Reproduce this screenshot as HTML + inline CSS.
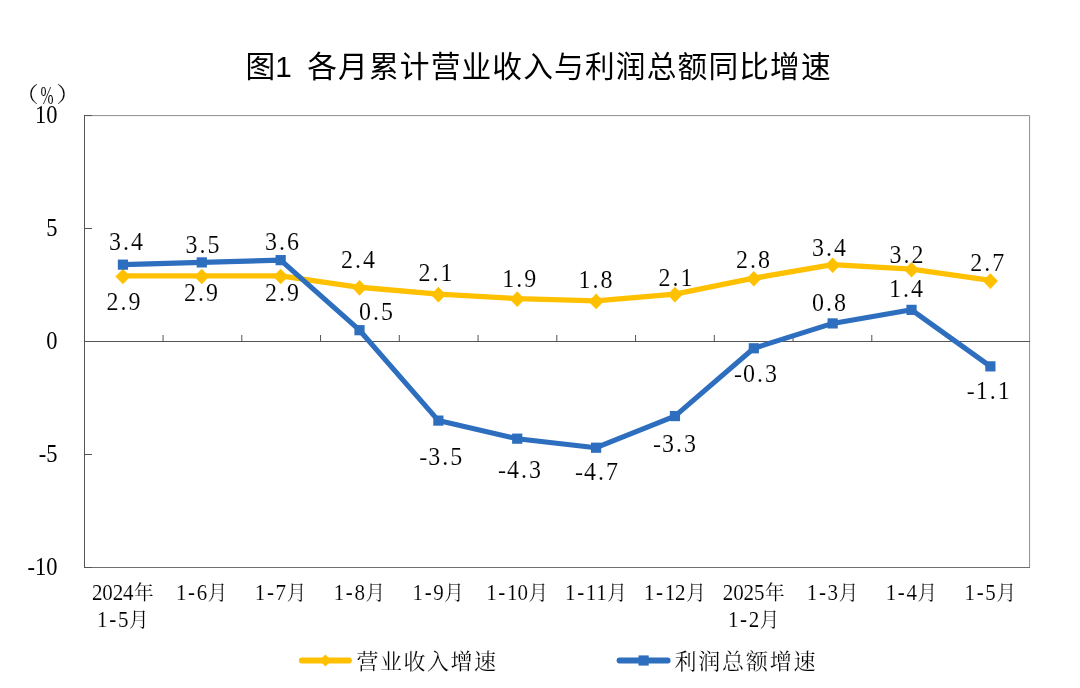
<!DOCTYPE html>
<html lang="zh-CN"><head><meta charset="utf-8"><title>图1 各月累计营业收入与利润总额同比增速</title>
<style>html,body{margin:0;padding:0;background:#fff}body{width:1080px;height:688px;overflow:hidden}svg{display:block}.t{font-family:"Liberation Sans","Noto Sans CJK SC",sans-serif;fill:#000}.s{font-family:"Liberation Serif","Noto Serif CJK SC",serif;fill:#000}.n{font-family:"Liberation Serif",serif;fill:#000;stroke:#fff;stroke-width:0.1px}.s{stroke:#fff;stroke-width:0.1px}</style></head><body>
<svg width="1080" height="688" viewBox="0 0 1080 688">
<rect width="1080" height="688" fill="#fff"/>
<text class="t" x="260.33 283.47 298.90 322.05 352.91 383.77 414.63 445.49 476.35 507.21 538.07 568.93 599.79 630.65 661.51 692.37 723.23 754.09 784.95 815.81" y="76.80" font-size="29.70" text-anchor="middle" xml:space="preserve">图1 各月累计营业收入与利润总额同比增速</text>
<g fill="none" shape-rendering="crispEdges" stroke-width="1">
<path d="M84.5 115.60H1029.58V567.5" stroke="#8d8d8d" shape-rendering="auto"/>
<path d="M84.5 567.5H1029.5" stroke="#707070"/>
<path d="M84.5 115.0V568.0" stroke="#555555"/>
<path d="M84.5 341.5H1029.5" stroke="#555555"/>
<path d="M163.05 341.0V335.0M241.80 341.0V335.0M320.55 341.0V335.0M399.30 341.0V335.0M478.05 341.0V335.0M556.80 341.0V335.0M635.55 341.0V335.0M714.30 341.0V335.0M793.05 341.0V335.0M871.80 341.0V335.0M950.55 341.0V335.0" stroke="#555555" shape-rendering="auto"/>
<path d="M84.5 115.5H91.5M84.5 228.5H91.5M84.5 454.5H91.5M84.5 567.5H91.5" stroke="#555555"/>
</g>
<text class="n" style="stroke:none" x="57.50" y="0" font-size="22.50" text-anchor="end" transform="translate(0 122.50) scale(1 1.0750)">10</text>
<text class="n" style="stroke:none" x="57.50" y="0" font-size="22.50" text-anchor="end" transform="translate(0 235.50) scale(1 1.0750)">5</text>
<text class="n" style="stroke:none" x="57.50" y="0" font-size="22.50" text-anchor="end" transform="translate(0 348.50) scale(1 1.0750)">0</text>
<text class="n" style="stroke:none" x="57.50" y="0" font-size="22.50" text-anchor="end" transform="translate(0 461.50) scale(1 1.0750)">-5</text>
<text class="n" style="stroke:none" x="57.50" y="0" font-size="22.50" text-anchor="end" transform="translate(0 574.50) scale(1 1.0750)">-10</text>
<g class="s" text-anchor="middle">
<text class="s" x="-6.26" y="0" font-size="21.30" transform="translate(33.60 102.00) scale(1.150 1)">（</text>
<text class="n" x="0" y="0" font-size="25.90" transform="translate(47.10 103.70) scale(0.607 1)">%</text>
<text class="s" x="6.26" y="0" font-size="21.30" transform="translate(61.40 102.00) scale(1.150 1)">）</text>
</g>
<text class="s" x="97.13 107.53 117.93 128.33 143.93" y="0.00" font-size="21.00" text-anchor="middle" transform="translate(0 600.00) scale(1 1.0500)">2024<tspan font-size="19.60">年</tspan></text>
<text class="s" x="102.33 112.73 123.13 138.73" y="0.00" font-size="21.00" text-anchor="middle" transform="translate(0 626.90) scale(1 1.0500)">1-5<tspan font-size="19.60">月</tspan></text>
<text class="s" x="181.19 191.59 201.99 217.59" y="0.00" font-size="21.00" text-anchor="middle" transform="translate(0 600.00) scale(1 1.0500)">1-6<tspan font-size="19.60">月</tspan></text>
<text class="s" x="260.05 270.45 280.85 296.45" y="0.00" font-size="21.00" text-anchor="middle" transform="translate(0 600.00) scale(1 1.0500)">1-7<tspan font-size="19.60">月</tspan></text>
<text class="s" x="338.91 349.31 359.71 375.31" y="0.00" font-size="21.00" text-anchor="middle" transform="translate(0 600.00) scale(1 1.0500)">1-8<tspan font-size="19.60">月</tspan></text>
<text class="s" x="417.77 428.17 438.57 454.17" y="0.00" font-size="21.00" text-anchor="middle" transform="translate(0 600.00) scale(1 1.0500)">1-9<tspan font-size="19.60">月</tspan></text>
<text class="s" x="491.43 501.83 512.23 522.63 538.23" y="0.00" font-size="21.00" text-anchor="middle" transform="translate(0 600.00) scale(1 1.0500)">1-10<tspan font-size="19.60">月</tspan></text>
<text class="s" x="570.29 580.69 591.09 601.49 617.09" y="0.00" font-size="21.00" text-anchor="middle" transform="translate(0 600.00) scale(1 1.0500)">1-11<tspan font-size="19.60">月</tspan></text>
<text class="s" x="649.15 659.55 669.95 680.35 695.95" y="0.00" font-size="21.00" text-anchor="middle" transform="translate(0 600.00) scale(1 1.0500)">1-12<tspan font-size="19.60">月</tspan></text>
<text class="s" x="728.01 738.41 748.81 759.21 774.81" y="0.00" font-size="21.00" text-anchor="middle" transform="translate(0 600.00) scale(1 1.0500)">2025<tspan font-size="19.60">年</tspan></text>
<text class="s" x="733.21 743.61 754.01 769.61" y="0.00" font-size="21.00" text-anchor="middle" transform="translate(0 626.90) scale(1 1.0500)">1-2<tspan font-size="19.60">月</tspan></text>
<text class="s" x="812.07 822.47 832.87 848.47" y="0.00" font-size="21.00" text-anchor="middle" transform="translate(0 600.00) scale(1 1.0500)">1-3<tspan font-size="19.60">月</tspan></text>
<text class="s" x="890.93 901.33 911.73 927.33" y="0.00" font-size="21.00" text-anchor="middle" transform="translate(0 600.00) scale(1 1.0500)">1-4<tspan font-size="19.60">月</tspan></text>
<text class="s" x="969.79 980.19 990.59 1006.19" y="0.00" font-size="21.00" text-anchor="middle" transform="translate(0 600.00) scale(1 1.0500)">1-5<tspan font-size="19.60">月</tspan></text>
<polyline points="122.93,275.96 201.79,275.96 280.65,275.96 359.51,287.26 438.37,294.04 517.23,298.56 596.09,300.82 674.95,294.04 753.81,278.22 832.67,264.66 911.53,269.18 990.39,280.48" fill="none" stroke="#FFC000" stroke-width="5.30" stroke-linejoin="round" stroke-linecap="round"/>
<path d="M115.43 276.56L122.93 268.76L130.43 276.56L122.93 284.36Z" fill="#FFC000"/>
<path d="M194.29 276.56L201.79 268.76L209.29 276.56L201.79 284.36Z" fill="#FFC000"/>
<path d="M273.15 276.56L280.65 268.76L288.15 276.56L280.65 284.36Z" fill="#FFC000"/>
<path d="M352.01 287.86L359.51 280.06L367.01 287.86L359.51 295.66Z" fill="#FFC000"/>
<path d="M430.87 294.64L438.37 286.84L445.87 294.64L438.37 302.44Z" fill="#FFC000"/>
<path d="M509.73 299.16L517.23 291.36L524.73 299.16L517.23 306.96Z" fill="#FFC000"/>
<path d="M588.59 301.42L596.09 293.62L603.59 301.42L596.09 309.22Z" fill="#FFC000"/>
<path d="M667.45 294.64L674.95 286.84L682.45 294.64L674.95 302.44Z" fill="#FFC000"/>
<path d="M746.31 278.82L753.81 271.02L761.31 278.82L753.81 286.62Z" fill="#FFC000"/>
<path d="M825.17 265.26L832.67 257.46L840.17 265.26L832.67 273.06Z" fill="#FFC000"/>
<path d="M904.03 269.78L911.53 261.98L919.03 269.78L911.53 277.58Z" fill="#FFC000"/>
<path d="M982.89 281.08L990.39 273.28L997.89 281.08L990.39 288.88Z" fill="#FFC000"/>
<polyline points="122.93,264.66 201.79,262.40 280.65,260.14 359.51,330.20 438.37,420.60 517.23,438.68 596.09,447.72 674.95,416.08 753.81,348.28 832.67,323.42 911.53,309.86 990.39,366.36" fill="none" stroke="#2E6EBE" stroke-width="5.10" stroke-linejoin="round" stroke-linecap="round"/>
<rect x="117.83" y="259.56" width="10.20" height="10.20" fill="#2E6EBE"/>
<rect x="196.69" y="257.30" width="10.20" height="10.20" fill="#2E6EBE"/>
<rect x="275.55" y="255.04" width="10.20" height="10.20" fill="#2E6EBE"/>
<rect x="354.41" y="325.10" width="10.20" height="10.20" fill="#2E6EBE"/>
<rect x="433.27" y="415.50" width="10.20" height="10.20" fill="#2E6EBE"/>
<rect x="512.13" y="433.58" width="10.20" height="10.20" fill="#2E6EBE"/>
<rect x="590.99" y="442.62" width="10.20" height="10.20" fill="#2E6EBE"/>
<rect x="669.85" y="410.98" width="10.20" height="10.20" fill="#2E6EBE"/>
<rect x="748.71" y="343.18" width="10.20" height="10.20" fill="#2E6EBE"/>
<rect x="827.57" y="318.32" width="10.20" height="10.20" fill="#2E6EBE"/>
<rect x="906.43" y="304.76" width="10.20" height="10.20" fill="#2E6EBE"/>
<rect x="985.29" y="361.26" width="10.20" height="10.20" fill="#2E6EBE"/>
<text class="n" x="115.00 126.00 137.00" y="0.00" font-size="24.00" text-anchor="middle" transform="translate(0 250.00) scale(1 1.0800)">3.4</text>
<text class="n" x="191.50 202.50 213.50" y="0.00" font-size="24.00" text-anchor="middle" transform="translate(0 253.00) scale(1 1.0800)">3.5</text>
<text class="n" x="271.00 282.00 293.00" y="0.00" font-size="24.00" text-anchor="middle" transform="translate(0 250.40) scale(1 1.0800)">3.6</text>
<text class="n" x="365.00 376.00 387.00" y="0.00" font-size="24.00" text-anchor="middle" transform="translate(0 320.40) scale(1 1.0800)">0.5</text>
<text class="n" x="423.20 434.20 445.20 456.20" y="0.00" font-size="24.00" text-anchor="middle" transform="translate(0 464.80) scale(1 1.0800)">-3.5</text>
<text class="n" x="502.10 513.10 524.10 535.10" y="0.00" font-size="24.00" text-anchor="middle" transform="translate(0 477.90) scale(1 1.0800)">-4.3</text>
<text class="n" x="579.00 590.00 601.00 612.00" y="0.00" font-size="24.00" text-anchor="middle" transform="translate(0 479.80) scale(1 1.0800)">-4.7</text>
<text class="n" x="657.10 668.10 679.10 690.10" y="0.00" font-size="24.00" text-anchor="middle" transform="translate(0 452.30) scale(1 1.0800)">-3.3</text>
<text class="n" x="738.00 749.00 760.00 771.00" y="0.00" font-size="24.00" text-anchor="middle" transform="translate(0 381.70) scale(1 1.0800)">-0.3</text>
<text class="n" x="818.10 829.10 840.10" y="0.00" font-size="24.00" text-anchor="middle" transform="translate(0 310.70) scale(1 1.0800)">0.8</text>
<text class="n" x="894.90 905.90 916.90" y="0.00" font-size="24.00" text-anchor="middle" transform="translate(0 297.30) scale(1 1.0800)">1.4</text>
<text class="n" x="970.80 981.80 992.80 1003.80" y="0.00" font-size="24.00" text-anchor="middle" transform="translate(0 399.00) scale(1 1.0800)">-1.1</text>
<text class="n" x="112.50 123.50 134.50" y="0.00" font-size="24.00" text-anchor="middle" transform="translate(0 309.90) scale(1 1.0800)">2.9</text>
<text class="n" x="190.00 201.00 212.00" y="0.00" font-size="24.00" text-anchor="middle" transform="translate(0 300.50) scale(1 1.0800)">2.9</text>
<text class="n" x="271.00 282.00 293.00" y="0.00" font-size="24.00" text-anchor="middle" transform="translate(0 300.90) scale(1 1.0800)">2.9</text>
<text class="n" x="346.90 357.90 368.90" y="0.00" font-size="24.00" text-anchor="middle" transform="translate(0 268.20) scale(1 1.0800)">2.4</text>
<text class="n" x="424.50 435.50 446.50" y="0.00" font-size="24.00" text-anchor="middle" transform="translate(0 280.70) scale(1 1.0800)">2.1</text>
<text class="n" x="508.30 519.30 530.30" y="0.00" font-size="24.00" text-anchor="middle" transform="translate(0 286.90) scale(1 1.0800)">1.9</text>
<text class="n" x="584.60 595.60 606.60" y="0.00" font-size="24.00" text-anchor="middle" transform="translate(0 288.40) scale(1 1.0800)">1.8</text>
<text class="n" x="664.50 675.50 686.50" y="0.00" font-size="24.00" text-anchor="middle" transform="translate(0 285.90) scale(1 1.0800)">2.1</text>
<text class="n" x="741.90 752.90 763.90" y="0.00" font-size="24.00" text-anchor="middle" transform="translate(0 268.20) scale(1 1.0800)">2.8</text>
<text class="n" x="818.00 829.00 840.00" y="0.00" font-size="24.00" text-anchor="middle" transform="translate(0 255.90) scale(1 1.0800)">3.4</text>
<text class="n" x="895.50 906.50 917.50" y="0.00" font-size="24.00" text-anchor="middle" transform="translate(0 262.80) scale(1 1.0800)">3.2</text>
<text class="n" x="976.20 987.20 998.20" y="0.00" font-size="24.00" text-anchor="middle" transform="translate(0 271.40) scale(1 1.0800)">2.7</text>
<line x1="301.80" y1="660.50" x2="349.00" y2="660.50" stroke="#FFC000" stroke-width="5.80" stroke-linecap="round"/>
<path d="M319.40 660.50L325.40 654.50L331.40 660.50L325.40 666.50Z" fill="#FFC000"/>
<text class="s" x="356.50" y="668.80" font-size="22.00" textLength="139.50" lengthAdjust="spacing">营业收入增速</text>
<line x1="619.50" y1="660.50" x2="667.70" y2="660.50" stroke="#2E6EBE" stroke-width="5.80" stroke-linecap="round"/>
<rect x="638.50" y="655.40" width="10.20" height="10.20" fill="#2E6EBE"/>
<text class="s" x="674.50" y="668.80" font-size="22.00" textLength="141.00" lengthAdjust="spacing">利润总额增速</text>
</svg></body></html>
